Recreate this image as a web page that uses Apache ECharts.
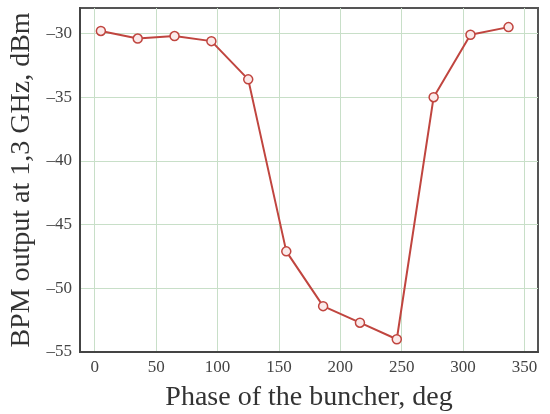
<!DOCTYPE html>
<html>
<head>
<meta charset="utf-8">
<script src="https://cdn.jsdelivr.net/npm/echarts@6/dist/echarts.min.js"></script>
<style>
  html, body { margin: 0; padding: 0; background: #fff; }
  #chart { width: 550px; height: 414px; }
</style>
</head>
<body>
<div id="chart"></div>
<script>
// phase (deg) vs BPM output (dBm)
var phase = [5, 35, 65, 95, 125, 156, 186, 216, 246, 276, 306, 337];
var power = [-29.8, -30.4, -30.2, -30.6, -33.6, -47.1, -51.4, -52.7, -54.0, -35.0, -30.1, -29.5];
var xTicks = [0, 50, 100, 150, 200, 250, 300, 350];
var yTicks = [-55, -50, -45, -40, -35, -30];

var chart = echarts.init(document.getElementById('chart'));
var font = '"Liberation Serif", "DejaVu Serif", serif';

chart.setOption({
  animation: false,
  grid: {
    left: 80, top: 8, right: 12, bottom: 62,
    outerBoundsMode: 'none',
    show: true, borderColor: '#555', borderWidth: 2, backgroundColor: '#fff'
  },
  xAxis: {
    type: 'value',
    min: -12, max: 361,
    name: 'Phase of the buncher, deg',
    nameLocation: 'middle',
    nameGap: 32,
    nameTextStyle: { fontFamily: font, fontSize: 28, color: '#333' },
    axisLine: { onZero: false, lineStyle: { color: '#444', width: 2 } },
    axisTick: { show: false, customValues: xTicks },
    axisLabel: { customValues: xTicks, fontFamily: font, fontSize: 17, color: '#444', margin: 7 },
    splitLine: { show: true, lineStyle: { color: '#c8dfc8', width: 1 } }
  },
  yAxis: {
    type: 'value',
    min: -55, max: -28,
    name: 'BPM output at 1,3 GHz, dBm',
    nameLocation: 'middle',
    nameGap: 42,
    nameTextStyle: { fontFamily: font, fontSize: 28, color: '#333' },
    axisLine: { show: true, onZero: false, lineStyle: { color: '#444', width: 2 } },
    axisTick: { show: false, customValues: yTicks },
    axisLabel: {
      customValues: yTicks, fontFamily: font, fontSize: 17, color: '#444', margin: 8,
      formatter: function (v) { return String(v).replace('-', '\u2013'); }
    },
    splitLine: { show: true, lineStyle: { color: '#c8dfc8', width: 1 } }
  },
  series: [{
    type: 'line',
    data: phase.map(function (p, i) { return [p, power[i]]; }),
    symbol: 'circle',
    symbolSize: 9,
    lineStyle: { color: '#c0453f', width: 2 },
    itemStyle: { color: '#fbeaea', borderColor: '#c0453f', borderWidth: 1.5 }
  }]
});
</script>
</body>
</html>
